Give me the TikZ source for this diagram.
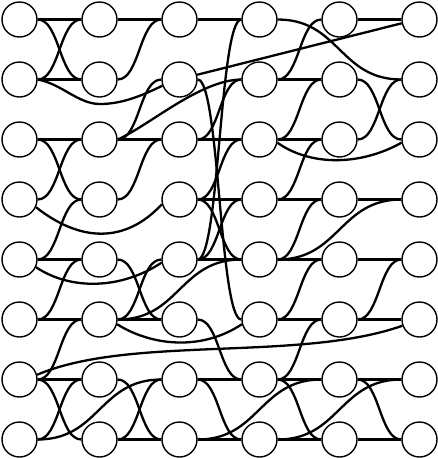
\documentclass[tikz,border=0pt]{standalone}
\usetikzlibrary{calc}
\begin{document}
\begin{tikzpicture}[x=1pt,y=-1pt,
  nd/.style={circle,draw,line width=1.4pt,minimum size=35pt,inner sep=0pt},
  ed/.style={line width=2.3pt},
  sig/.style={to path={let \p1=(\tikztostart), \p2=(\tikztotarget) in .. controls ($(\p1)!0.5!(\x2,\y1)$) and ($(\p2)!0.5!(\x1,\y2)$) .. (\p2)}}]
\useasboundingbox (0,0) rectangle (438,459);
\foreach \c [count=\i from 0] in {a,b,c,d,e,f}{
  \foreach \r in {1,...,8}{
    \node[nd] (\c\r) at ({19.5+80*\i},{19.5+60*(\r-1)}) {};
  }
}
% standard S-shaped / straight connectors
\foreach \s/\t in {a1/b1,a1/b2,a2/b1,a2/b2,a3/b3,a3/b4,a4/b3,a5/b4,a5/b5,a6/b5,a6/b6,
  a7/b6,a7/b7,a7/b8,a8/b7,a8/c7,
  b1/c1,b2/c1,b3/c2,b3/c3,b4/c3,b5/c6,b6/c5,b6/c6,b6/d5,b7/c8,b8/c7,b8/c8,
  c1/d1,c3/d2,c3/d3,c4/d3,c4/d4,c4/d5,c5/d4,c5/d5,c5/d1,c2/d6,c6/d7,c7/d7,c7/d8,c8/d8,c8/e7,
  d1/f2,d2/e1,d2/e2,d3/e2,d3/e3,d4/e3,d4/e4,d5/e4,d5/e5,d5/f4,d6/e5,d6/e6,d7/e6,d7/e7,d7/e8,d8/e8,d8/f7,
  e1/f1,e2/f3,e3/f2,e4/f4,e5/f5,e6/f5,e6/f6,e7/f7,e7/f8,e8/f8}
  \draw[ed] (\s.east) to[sig] (\t.west);
% dipping and long connectors
\draw[ed] (a2.east) .. controls (62,84) and (78,104) .. (100,104) .. controls (124,104) and (145,94) .. (c2.200);
\draw[ed] (a4.-25) .. controls (80,242) and (125,244) .. (c4.195);
\draw[ed] (a5.-25) .. controls (70,290) and (120,290) .. (c5.190);
\draw[ed] (d3.-10) .. controls (310,166) and (360,166) .. (f3.190);
\draw[ed] (b6.-15) .. controls (150,345) and (200,352) .. (d6.195);
\draw[ed] (a7.15) .. controls (130,335) and (300,362) .. (f6.200);
\draw[ed] (b3.east) .. controls (150,125) and (200,80) .. (d2.west);
\draw[ed] (c2.15) -- (f1.192);
\end{tikzpicture}
\end{document}
